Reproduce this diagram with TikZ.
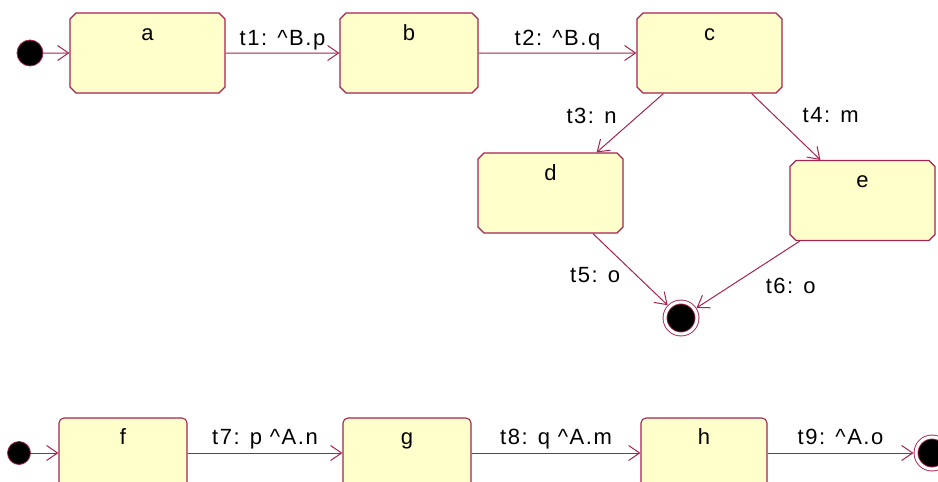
\documentclass[tikz,border=0pt]{standalone}
\usepackage{fontspec}
\setmainfont{Liberation Sans}[LetterSpace=7]
\usetikzlibrary{arrows.meta, positioning, shapes.misc}
\definecolor{umlred}{RGB}{165,35,80}
\definecolor{umlfill}{RGB}{255,255,204}

\begin{document}
\begin{tikzpicture}[x=1pt, y=-1pt, line width=1.1pt, font=\fontsize{22}{26}\selectfont,
        box/.style={draw=umlred, fill=umlfill, inner xsep=0pt, inner ysep=6pt},
        topbox/.style={box, chamfered rectangle, chamfered rectangle xsep=3pt,
            chamfered rectangle ysep=3pt, text height=18pt, text depth=44pt},
        lowbox/.style={box, rectangle, rounded corners=5pt, text height=20pt, text depth=38pt},
        startdot/.style={circle, draw=umlred, fill=black, line width=0.8pt, minimum size=26pt, inner sep=0pt},
        enddot/.style={circle, draw=umlred, fill=black, line width=0.9pt, double=white,
            double distance=3pt, minimum size=32pt, inner sep=0pt, outer sep=2.5pt},
        trans/.style={draw=umlred, line width=1pt, -{Straight Barb[length=11pt, width=15pt]}},
        lbl/.style={inner sep=2pt}]
    \useasboundingbox (0,0) rectangle (938,482);
    \clip (0,0) rectangle (938,482);

    % upper machine
    \node[startdot] (s1) at (30,53) {};
    \node[topbox, minimum width=155pt] (a) at (147.5,53) {a};
    \node[topbox, minimum width=138pt] (b) at (409,53) {b};
    \node[topbox, minimum width=145pt] (c) at (709.5,53) {c};
    \node[topbox, minimum width=145pt] (d) at (550.5,193) {d};
    \node[topbox, minimum width=145pt] (e) at (862.5,200.5) {e};
    \node[enddot] (f1) at (681,318) {};

    \draw[trans] (s1) -- (a);
    \draw[trans] (a) -- (b) node[lbl, midway, anchor=base, yshift=8pt] {t1: \textasciicircum B.p};
    \draw[trans] (b) -- (c) node[lbl, midway, anchor=base, yshift=8pt] {t2: \textasciicircum B.q};
    \draw[trans] (c) -- (d) node[lbl, pos=0.5, anchor=base east, xshift=-11pt] {t3: n};
    \draw[trans] (c) -- (e) node[lbl, pos=0.43, anchor=base west, xshift=19pt] {t4: m};
    \draw[trans] (d) -- (f1) node[lbl, pos=0.68, anchor=base east, xshift=-21pt] {t5: o};
    \draw[trans] (e) -- (f1) node[lbl, pos=0.78, anchor=base west, xshift=44pt] {t6: o};

    % lower machine
    \node[startdot, minimum size=23pt] (s2) at (19,453) {};
    \node[lowbox, minimum width=128pt] (f) at (123,453) {f};
    \node[lowbox, minimum width=128pt] (g) at (407,453) {g};
    \node[lowbox, minimum width=126pt] (h) at (704,453) {h};
    \node[enddot] (f2) at (932,453) {};

    \draw[trans] (s2) -- (f);
    \draw[trans] (f) -- (g) node[lbl, midway, anchor=base, yshift=9pt] {t7: p \textasciicircum A.n};
    \draw[trans] (g) -- (h) node[lbl, midway, anchor=base, yshift=9pt] {t8: q \textasciicircum A.m};
    \draw[trans] (h) -- (f2) node[lbl, midway, anchor=base, yshift=9pt] {t9: \textasciicircum A.o};
\end{tikzpicture}
\end{document}
